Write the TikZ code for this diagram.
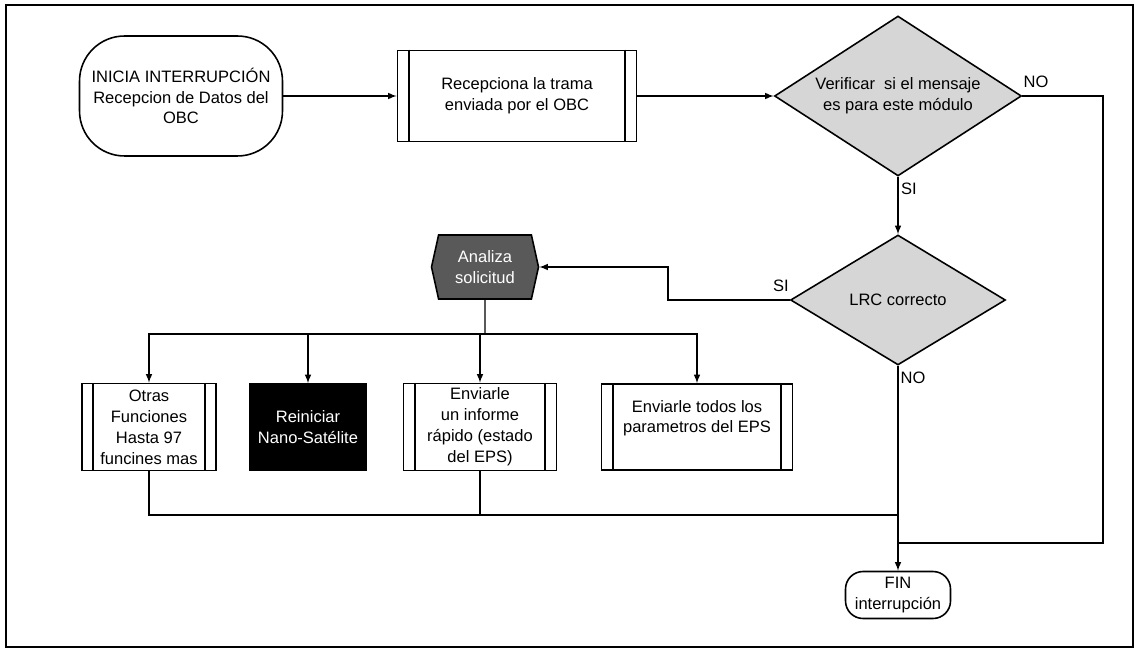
\documentclass[tikz,border=0pt]{standalone}
\usepackage{fontspec}
\setmainfont{Liberation Sans}
\usetikzlibrary{shapes.geometric,shapes.symbols}

\tikzset{
	proceso/.style={draw, rectangle, line width=0.9pt, inner sep=0pt, align=center},
	decision/.style={draw, diamond, fill=black!16, line width=0.9pt, inner sep=0pt, align=center},
	terminal/.style={draw, rectangle, line width=0.9pt, inner sep=0pt, align=center},
	etiqueta/.style={inner sep=1pt},
}

\begin{document}
\begin{tikzpicture}[x=0.02cm, y=-0.02cm, >=latex, line width=0.7pt, font=\fontsize{9.4}{11.9}\selectfont]
		\useasboundingbox (0,0) rectangle (1138,651);
		\draw[line width=0.6pt] (6,5) rectangle (1133,647);

		% fila superior
		\node[terminal, rounded corners=0.9cm, minimum width=4.06cm, minimum height=2.4cm] (inicio) at (181,96) {INICIA INTERRUPCIÓN\\Recepcion de Datos del\\OBC};
		\node[proceso, minimum width=4.78cm, minimum height=1.82cm] (recepcion) at (517,96) {Recepciona la trama\\enviada por el OBC};
		\node[decision, aspect=1.54, minimum width=4.94cm, minimum height=3.2cm] (verif) at (898,96) {Verificar\ \ si el mensaje\\es para este módulo};
		\node[decision, aspect=1.65, minimum width=4.3cm, minimum height=2.6cm] (lrc) at (898,300) {LRC correcto};
		\node[draw, signal, signal to=west and east, signal pointer angle=155, fill=black!65, text=white, line width=0.9pt, inner sep=0pt, align=center, minimum width=2.14cm, minimum height=1.28cm] (analiza) at (485,267) {Analiza\\solicitud};

		% fila inferior
		\node[proceso, minimum width=2.68cm, minimum height=1.74cm] (otras) at (149,427) {Otras\\Funciones\\Hasta 97\\funcines mas};
		\node[proceso, fill=black, text=white, minimum width=2.32cm, minimum height=1.72cm] (reinicio) at (308,427) {Reiniciar\\Nano-Satélite};
		\node[proceso, minimum width=3.06cm, minimum height=1.74cm] (informe) at (480,427) {Enviarle\\un informe\\rápido (estado\\del EPS)};
		\node[proceso, minimum width=3.82cm, minimum height=1.72cm] (todos) at (697,427) {Enviarle todos los\\parametros del EPS\\~};
		\node[terminal, rounded corners=0.35cm, minimum width=2.1cm, minimum height=0.94cm] (fin) at (898,595) {FIN\\interrupción};

		% barras laterales de los procesos
		\foreach \n in {recepcion,otras,informe,todos}
			\draw[line width=0.9pt] ([xshift=0.24cm]\n.north west) -- ([xshift=0.24cm]\n.south west)
				([xshift=-0.24cm]\n.north east) -- ([xshift=-0.24cm]\n.south east);

		% etiquetas
		\node[etiqueta] (si1) at (909,189) {SI};
		\node[etiqueta] (no1) at (1036,82) {NO};
		\node[etiqueta] (si2) at (781,286) {SI};
		\node[etiqueta] (no2) at (913,378) {NO};

		\coordinate (codo) at (668,300);
		\coordinate (bus) at (485,334);
		\coordinate (junta) at (898,515);
		\coordinate (vuelta) at (1103,543);

		\draw[->] (inicio) -- (recepcion);
		\draw[->] (recepcion) -- (verif);
		\draw[->] (verif) -- (lrc);
		\draw[->] (lrc.west) -- (codo) |- (analiza.east);
		\draw (analiza) -- (bus);
		\draw[->] (bus) -| (otras);
		\draw[->] (bus) -| (reinicio);
		\draw[->] (bus) -| (informe);
		\draw[->] (bus) -| (todos);
		\draw (otras) |- (junta);
		\draw (informe) -- (informe |- junta);
		\draw[->] (lrc) -- (fin);
		\draw (verif) -| (vuelta) -- (vuelta -| fin);
	\end{tikzpicture}
\end{document}
